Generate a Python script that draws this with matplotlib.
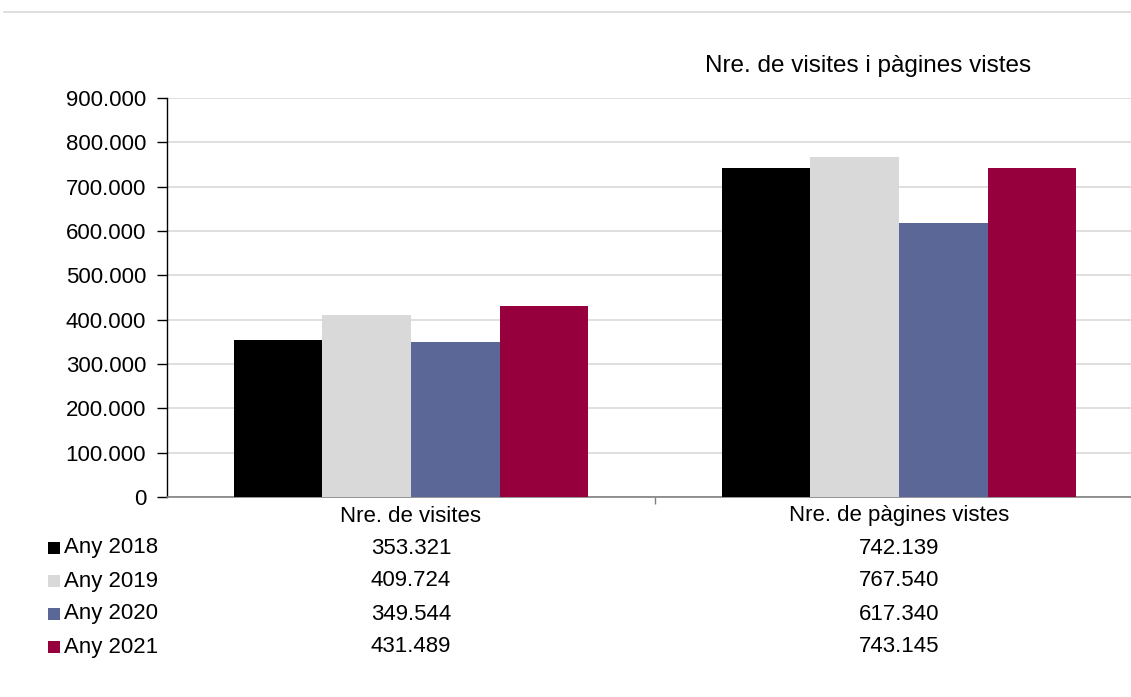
import matplotlib
matplotlib.use("Agg")
import matplotlib.pyplot as plt
from matplotlib.patches import Rectangle
from matplotlib.lines import Line2D
from matplotlib.ticker import FuncFormatter, MultipleLocator
import matplotlib.transforms as mtransforms

plt.rcParams['font.family'] = ['Liberation Sans', 'DejaVu Sans']

categories = ["Nre. de visites", "Nre. de pàgines vistes"]
series_names = ["Any 2018", "Any 2019", "Any 2020", "Any 2021"]
any_2018 = [353321, 742139]
any_2019 = [409724, 767540]
any_2020 = [349544, 617340]
any_2021 = [431489, 743145]
series_values = [any_2018, any_2019, any_2020, any_2021]
colors = ["#000000", "#D9D9D9", "#5B6797", "#96003C"]
title = "Nre. de visites i pàgines vistes"

W, H = 1131, 697
fig = plt.figure(figsize=(W / 100, H / 100), dpi=100)

def fx(px):
    return px / W

def fy(py):
    return 1 - py / H

ax = fig.add_axes([fx(167), fy(497), fx(1143) - fx(167), fy(98) - fy(497)])

bar_w = 0.1815
n = len(series_values)
for i, (vals, col) in enumerate(zip(series_values, colors)):
    xs = [c + (i - (n - 1) / 2) * bar_w for c in range(len(categories))]
    ax.bar(xs, vals, width=bar_w, color=col, zorder=3, linewidth=0)

ax.set_xlim(-0.5, len(categories) - 0.5)
ax.set_ylim(0, 900000)
ax.yaxis.set_major_locator(MultipleLocator(100000))
ax.yaxis.set_major_formatter(FuncFormatter(lambda v, p: f"{int(v):,}".replace(",", ".")))
ax.grid(axis='y', color='#D9D9D9', linewidth=1.2, zorder=0)
for s in ['top', 'right']:
    ax.spines[s].set_visible(False)
ax.spines['left'].set_color('#000000')
ax.spines['left'].set_linewidth(1.0)
ax.spines['bottom'].set_color('#808080')
ax.spines['bottom'].set_linewidth(1.2)
ax.tick_params(axis='y', direction='out', length=7, width=1, colors='#000000',
               labelsize=16, pad=8)
ax.set_xticks([0.5])
ax.set_xticklabels([''])
ax.tick_params(axis='x', direction='out', length=5, width=1, colors='#808080')

# title
fig.text(fx(868), fy(66), title, ha='center', va='center', fontsize=17.5, color='#000000')

# data table
trans = mtransforms.blended_transform_factory(ax.transData, fig.transFigure)
for c, cat in enumerate(categories):
    ax.text(c, fy(516), cat, transform=trans, ha='center', va='center', fontsize=16,
            color='#000000', clip_on=False)
row_y = [548, 581, 614, 647]
for r, (name, vals, col) in enumerate(zip(series_names, series_values, colors)):
    y = fy(row_y[r])
    fig.patches.append(Rectangle((fx(48), y - 6 / H), 12 / W, 12 / H, transform=fig.transFigure,
                                 facecolor=col, edgecolor='none'))
    fig.text(fx(64), y, name, ha='left', va='center', fontsize=16, color='#000000')
    for c, v in enumerate(vals):
        ax.text(c, y, f"{v:,}".replace(",", "."), transform=trans, ha='center', va='center',
                fontsize=16, color='#000000', clip_on=False)

# top border line
fig.add_artist(Line2D([fx(4), 1], [fy(12), fy(12)], color='#D9D9D9', linewidth=1.2))

fig.savefig("out.png", dpi=100)
